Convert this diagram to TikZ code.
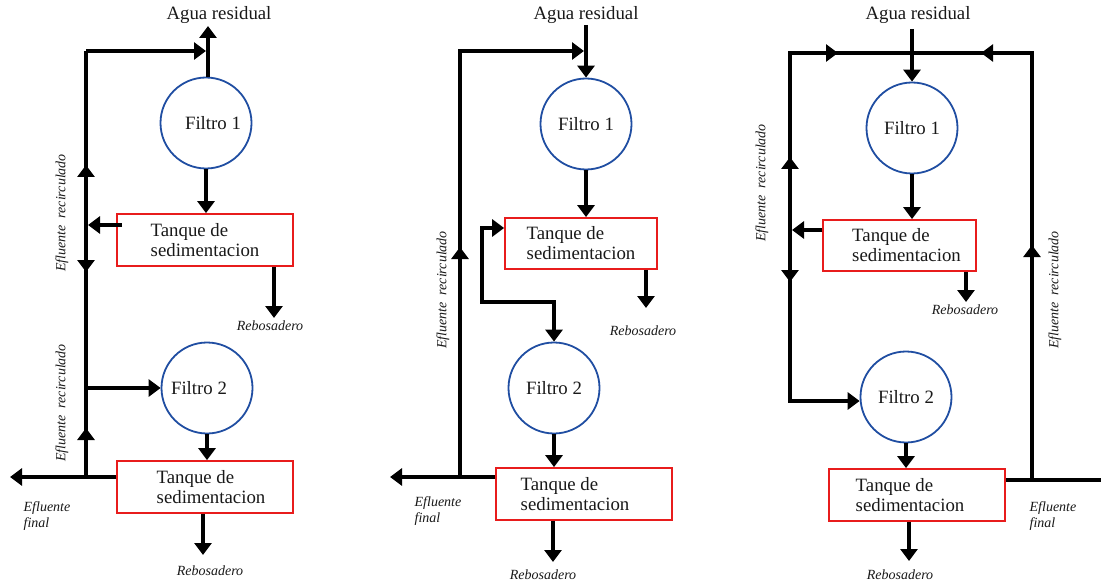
\documentclass[tikz,border=0pt]{standalone}
\usepackage{fontspec}
\setmainfont{Liberation Serif}
\usetikzlibrary{arrows.meta,decorations.markings}
\definecolor{fblue}{RGB}{32,78,162}
\definecolor{tred}{RGB}{232,28,28}
\definecolor{ink}{RGB}{25,25,25}
\tikzset{
  Tri/.tip={Triangle[width=17pt,length=12pt]},
  flow/.style={draw=black,line width=4.5pt,line cap=butt,line join=miter},
  tipend/.style={-{Tri}},
  filtro/.style={circle,draw=fblue,line width=1.8pt,minimum size=91pt,inner sep=0pt,text=ink,font=\fontsize{18.8}{22}\selectfont},
  tanque/.style={rectangle,draw=tred,line width=1.8pt,minimum width=176pt,minimum height=52pt,inner sep=0pt,align=left,text=ink,font=\fontsize{18.8}{20}\selectfont},
  lbl/.style={inner sep=0pt,text=ink,font=\fontsize{18.8}{22}\selectfont},
  ital/.style={inner sep=0pt,align=left,text=ink,font=\itshape\fontsize{14}{15.5}\selectfont},
  marks/.style={postaction={decorate},decoration={markings,#1}}
}
\begin{document}
\begin{tikzpicture}[x=1pt,y=-1pt]
\fill[white] (0,0) rectangle (1101,583);
\useasboundingbox (0,0) rectangle (1101,583);

% ================= Panel 1 =================
\node[lbl] (ag1) at (219,15) {Agua residual};
\node[filtro] (F1) at (206,123) {\hspace*{14pt}Filtro 1};
\node[tanque] (T1) at (205,240) {Tanque de\\sedimentacion};
\node[filtro] (F2) at (207,388) {Filtro 2\hspace*{16pt}};
\node[tanque] (T2) at (205,487) {\hspace*{12pt}Tanque de\\\hspace*{12pt}sedimentacion};
\node[ital] (rb1) at (270,326) {Rebosadero};
\node[ital] (rb2) at (210,571) {Rebosadero};
\node[ital,rotate=90] (er1) at (62,213) {Efluente\hspace{0.5em}recirculado};
\node[ital,rotate=90] (er2) at (62,403) {Efluente\hspace{0.5em}recirculado};
\node[ital] (ef1) at (47,516) {Efluente\\final};

\coordinate (a0) at (208,26);
\coordinate (a1) at (86,51);
\coordinate (a2) at (86,225);
\coordinate (a3) at (86,388);
\coordinate (a4) at (86,477);
\coordinate (o1) at (10,477);
\coordinate (r1) at (274,318);
\coordinate (r2) at (203,555);

\draw[flow,tipend] (F1.north -| a0) -- (a0);
\draw[flow,tipend,shorten >=2pt] (a1) -- (a1 -| a0);
\draw[flow,marks={mark=at position 114pt with {\arrowreversed{Tri}},mark=at position 221pt with {\arrow{Tri}}}] (a1) -- (a3);
\draw[flow,tipend,shorten <=-6pt,shorten >=2pt] (T1.west |- a2) -- (a2);
\draw[flow,tipend] (a3) -- (F2.west);
\draw[flow,marks={mark=at position 49pt with {\arrow{Tri}}}] (a4) -- (a3);
\draw[flow,tipend] (T2.west |- a4) -- (o1);
\draw[flow,tipend] (F1.south) -- (F1.south |- T1.north);
\draw[flow,tipend] (F2.south) -- (F2.south |- T2.north);
\draw[flow,tipend] (T1.south -| r1) -- (r1);
\draw[flow,tipend] (T2.south -| r2) -- (r2);

% ================= Panel 2 =================
\node[lbl] (ag2) at (586,15) {Agua residual};
\node[filtro] (F3) at (586,124) {Filtro 1};
\node[tanque,minimum width=152pt,minimum height=51pt] (T3) at (581,243.5) {Tanque de\\sedimentacion};
\node[filtro] (F4) at (554,388) {Filtro 2};
\node[tanque] (T4) at (584,494) {Tanque de\\sedimentacion\hspace*{18pt}};
\node[ital] (rb3) at (643,331) {Rebosadero};
\node[ital] (rb4) at (543,575) {Rebosadero};
\node[ital,rotate=90] (er3) at (443,290) {Efluente\hspace{0.5em}recirculado};
\node[ital] (ef2) at (438,511) {Efluente\\final};

\coordinate (b0) at (586,25);
\coordinate (b1) at (460,51);
\coordinate (b2) at (460,477);
\coordinate (b3) at (482,228);
\coordinate (b4) at (482,302);
\coordinate (o2) at (390,477);
\coordinate (r3) at (646,308);
\coordinate (r4) at (553,562);

\draw[flow,tipend] (b0) -- (F3.north);
\draw[flow,tipend,shorten >=2pt,marks={mark=at position 230pt with {\arrow{Tri}}}] (b2) -- (b1) -- (b1 -| b0);
\draw[flow,tipend] (F3.south) -- (F3.south |- T3.north);
\draw[flow,{Tri}-{Tri}] (T3.west |- b3) -- (b3) -- (b4) -| (F4.north);
\draw[flow,tipend] (F4.south) -- (F4.south |- T4.north);
\draw[flow,tipend] (T4.west |- b2) -- (o2);
\draw[flow,tipend] (T3.south -| r3) -- (r3);
\draw[flow,tipend] (T4.south -| r4) -- (r4);

% ================= Panel 3 =================
\node[lbl] (ag3) at (918,15) {Agua residual};
\node[filtro] (F5) at (912,128) {Filtro 1};
\node[tanque,minimum width=153pt,minimum height=51pt] (T5) at (899.5,245.5) {\hspace*{14pt}Tanque de\\\hspace*{14pt}sedimentacion};
\node[filtro] (F6) at (906,397) {Filtro 2};
\node[tanque] (T6) at (917,495) {Tanque de\\sedimentacion\hspace*{14pt}};
\node[ital] (rb5) at (965,310) {Rebosadero};
\node[ital] (rb6) at (900,575) {Rebosadero};
\node[ital,rotate=90] (er5) at (762,183) {Efluente\hspace{0.5em}recirculado};
\node[ital,rotate=90] (er6) at (1055,290) {Efluente\hspace{0.5em}recirculado};
\node[ital] (ef3) at (1053,516) {Efluente\\final};

\coordinate (c0) at (912,29);
\coordinate (c1) at (790,53);
\coordinate (c2) at (1032,53);
\coordinate (c3) at (790,230);
\coordinate (c4) at (790,401);
\coordinate (c5) at (1032,480);
\coordinate (o3) at (1101,480);
\coordinate (r5) at (966,302);
\coordinate (r6) at (909,561);

\draw[flow,tipend] (c0) -- (F5.north);
\draw[flow,marks={mark=at position 73pt with {\arrow{Tri}},mark=at position 225pt with {\arrow{Tri}}}] (c3) -- (c1) -- (c0 |- c1);
\draw[flow,tipend,marks={mark=at position 52pt with {\arrow{Tri}}}] (c3) -- (c4) -- (F6.west |- c4);
\draw[flow,tipend,shorten >=2pt] (T5.west |- c3) -- (c3);
\draw[flow,marks={mark=at position 261pt with {\arrow{Tri}},mark=at position 504pt with {\arrow{Tri}}}] (T6.east |- c5) -- (c5) -- (c2) -- (c0 |- c2);
\draw[flow] (c5) -- (o3);
\draw[flow,tipend] (F5.south) -- (F5.south |- T5.north);
\draw[flow,tipend] (F6.south) -- (F6.south |- T6.north);
\draw[flow,tipend] (T5.south -| r5) -- (r5);
\draw[flow,tipend] (T6.south -| r6) -- (r6);
\end{tikzpicture}
\end{document}
